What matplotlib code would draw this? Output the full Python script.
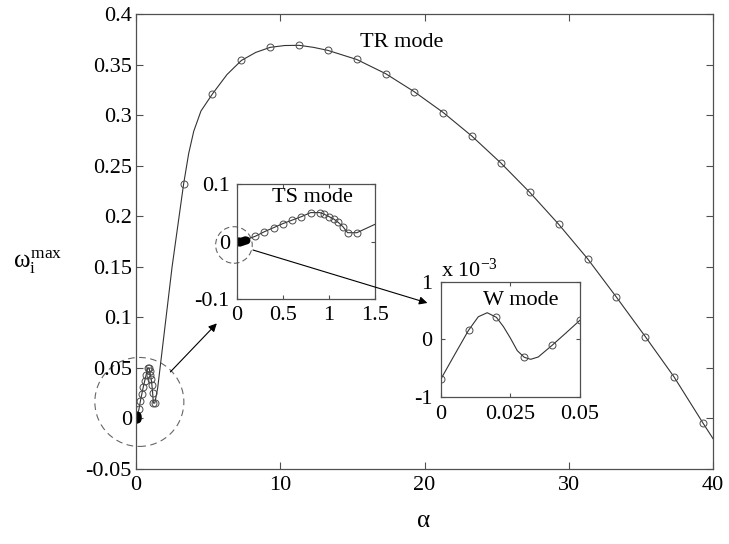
import matplotlib.pyplot as plt
import numpy as np
from matplotlib.patches import Ellipse

plt.rcParams['font.family'] = 'serif'
plt.rcParams['font.serif'] = ['Liberation Serif', 'DejaVu Serif']
plt.rcParams['font.size'] = 16
plt.rcParams['mathtext.fontset'] = 'custom'
plt.rcParams['mathtext.rm'] = 'Liberation Serif'
plt.rcParams['mathtext.it'] = 'Liberation Serif'

# W mode (very small growth rates)
w_alpha = [0, 0.01, 0.02, 0.03, 0.04, 0.05]
w_omega = [-0.70e-3, 0.155e-3, 0.38e-3, -0.315e-3, -0.106e-3, 0.33e-3]
# extra points along the W curve (no markers)
w_curve_alpha = [0.005, 0.0135, 0.0167, 0.0225, 0.025, 0.0275, 0.0323, 0.035, 0.045]
w_curve_omega = [-0.27e-3, 0.39e-3, 0.46e-3, 0.22e-3, 0.02e-3, -0.20e-3, -0.35e-3, -0.31e-3, 0.11e-3]

# TS mode
ts_alpha = [0.06, 0.07, 0.08, 0.09, 0.1, 0.2, 0.3, 0.4, 0.5, 0.6, 0.7, 0.8, 0.9,
            0.95, 1.0, 1.05, 1.1, 1.15, 1.2, 1.3]
ts_omega = [0.0006, 0.0012, 0.0018, 0.0025, 0.0032, 0.009, 0.017, 0.024, 0.031,
            0.037, 0.043, 0.050, 0.050, 0.047, 0.043, 0.039, 0.033, 0.0256, 0.0152, 0.0152]

# TR mode
tr_alpha = [3.3, 5.3, 7.3, 9.3, 11.3, 13.3, 15.3, 17.3, 19.3, 21.3, 23.3, 25.3,
            27.3, 29.3, 31.3, 33.3, 35.3, 37.3, 39.3]
tr_omega = [0.232, 0.321, 0.354, 0.367, 0.369, 0.364, 0.355, 0.341, 0.323, 0.3025,
            0.279, 0.2525, 0.2235, 0.192, 0.158, 0.120, 0.081, 0.041, -0.0045]
tr_curve_alpha = [1.5, 1.9, 2.5, 3.65, 4.0, 4.5, 6.3, 8.3, 10.3, 12.3, 40.0]
tr_curve_omega = [0.030, 0.078, 0.150, 0.262, 0.284, 0.304, 0.340, 0.362, 0.3688, 0.367, -0.020]

main_xticks = [0, 10, 20, 30, 40]
main_yticks = [-0.05, 0, 0.05, 0.1, 0.15, 0.2, 0.25, 0.3, 0.35, 0.4]
main_ylabels = ['-0.05', '0', '0.05', '0.1', '0.15', '0.2', '0.25', '0.3', '0.35', '0.4']

LINE = '#333333'
EDGE = '#4a4a4a'
AXC = '#505050'

mark_a = np.array(w_alpha + ts_alpha + tr_alpha)
mark_w = np.array(w_omega + ts_omega + tr_omega)
line_a = np.concatenate([mark_a, w_curve_alpha, tr_curve_alpha])
line_w = np.concatenate([mark_w, w_curve_omega, tr_curve_omega])
order = np.argsort(line_a)
line_a, line_w = line_a[order], line_w[order]

wl_a = np.array(w_alpha + w_curve_alpha)
wl_w = np.array(w_omega + w_curve_omega)
o = np.argsort(wl_a)
wl_a, wl_w = wl_a[o], wl_w[o]

# points crowded at the origin show up as a dark blob
crowd = mark_a <= 0.1


def style(ax, length):
    ax.tick_params(direction='in', top=True, right=True, length=length,
                   width=0.8, color=AXC, labelsize=16)
    for s in ax.spines.values():
        s.set_color(AXC)
        s.set_linewidth(0.9)


def draw(ax, a, w, ma, mw, dark=None):
    ax.plot(a, w, '-', color=LINE, lw=0.8)
    ax.plot(ma, mw, 'o', mfc='none', mec=EDGE, ms=5, mew=0.7)
    if dark is not None:
        ax.plot(ma[dark], mw[dark], 'o', mfc='black', mec='black', ms=4.5, mew=0.8)


fig = plt.figure(figsize=(7.29, 5.44), dpi=100)

ax = fig.add_axes([0.1866, 0.1379, 0.7915, 0.8364])
draw(ax, line_a, line_w, mark_a, mark_w, crowd)
ax.set_xlim(0, 40)
ax.set_ylim(-0.05, 0.4)
ax.set_xticks(main_xticks)
ax.set_yticks(main_yticks)
ax.set_yticklabels(main_ylabels)
style(ax, 5)
ax.tick_params(axis='x', pad=5)
ax.tick_params(axis='y', pad=3)
ax.text(15.5, 0.372, 'TR mode', va='center')
ax.add_patch(Ellipse((0.23, 0.0163), 6.17, 0.088, fill=False, ls=(0, (6, 4)),
                     lw=0.8, color='#666666', clip_on=False))
ax.annotate('', xy=(5.6, 0.094), xytext=(2.38, 0.046),
            arrowprops=dict(arrowstyle='-|>', color='black', lw=0.8, mutation_scale=12,
                            shrinkA=0, shrinkB=0))

fig.text(0.018, 0.507, r'$\omega_i^{max}$', fontsize=18, va='baseline', ha='left')
fig.text(0.5816, 0.031, 'α', fontsize=18, va='baseline', ha='center')

# TS inset
ax_ts = fig.add_axes([0.3247, 0.4498, 0.1901, 0.2125])
draw(ax_ts, line_a, line_w, mark_a, mark_w, crowd)
ax_ts.set_xlim(0, 1.5)
ax_ts.set_ylim(-0.1, 0.1)
ax_ts.set_xticks([0, 0.5, 1, 1.5])
ax_ts.set_xticklabels(['0', '0.5', '1', '1.5'])
ax_ts.set_yticks([-0.1, 0, 0.1])
ax_ts.set_yticklabels(['-0.1', '0', '0.1'])
style(ax_ts, 3)
ax_ts.tick_params(pad=5)
ax_ts.text(0.379, 0.076, 'TS mode', va='center')
ax_ts.add_patch(Ellipse((-0.03, -0.006), 0.396, 0.0633, fill=False, ls=(0, (5, 3)),
                        lw=0.8, color='#666666', clip_on=False))
ax_ts.annotate('', xy=(20.2, 0.1142), xycoords=ax.transData,
               xytext=(0.176, -0.0147), textcoords=ax_ts.transData,
               annotation_clip=False,
               arrowprops=dict(arrowstyle='-|>', color='black', lw=0.8, mutation_scale=12,
                               shrinkA=0, shrinkB=0))

# W inset, values in units of 1e-3
ax_w = fig.add_axes([0.6045, 0.2708, 0.1911, 0.2114])
draw(ax_w, wl_a, wl_w * 1e3, np.array(w_alpha), np.array(w_omega) * 1e3)
ax_w.set_xlim(0, 0.05)
ax_w.set_ylim(-1, 1)
ax_w.set_xticks([0, 0.025, 0.05])
ax_w.set_xticklabels(['0', '0.025', '0.05'])
ax_w.set_yticks([-1, 0, 1])
ax_w.set_yticklabels(['-1', '0', '1'])
style(ax_w, 3)
ax_w.tick_params(pad=6)
ax_w.text(0.0153, 0.673, 'W mode', va='center')
ax_w.text(0.0, 1.04, r'x 10$^{-3}$', transform=ax_w.transAxes, va='baseline', ha='left')

fig.savefig('out.png', dpi=100)
